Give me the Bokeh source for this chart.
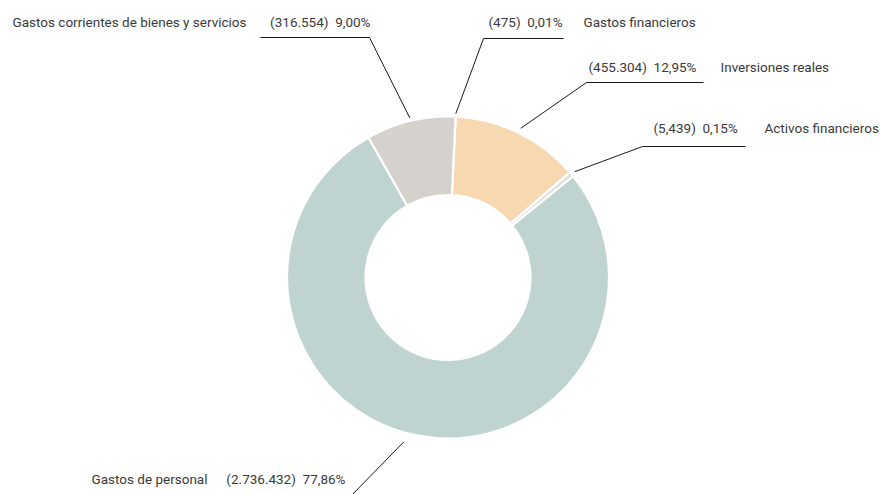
import math
from bokeh.plotting import figure
from bokeh.models import Range1d, ColumnDataSource
from bokeh.core.properties import value
from bokeh.embed import file_html
from bokeh.resources import INLINE

# ---------------- data ----------------
names = ["Gastos financieros", "Inversiones reales", "Activos financieros",
         "Gastos de personal", "Gastos corrientes de bienes y servicios"]
amounts = [475, 455304, 5439, 2736432, 316554]
amount_labels = ["(475)", "(455.304)", "(5,439)", "(2.736.432)", "(316.554)"]
percent_labels = ["0,01%", "12,95%", "0,15%", "77,86%", "9,00%"]

# ---------------- styling / layout ----------------
colors = ["#e4e4e4", "#f8d8b0", "#dedede", "#bfd4d0", "#d5d2ce"]
W, H = 882, 494
OFF = 0
def X(px): return px - OFF
def Y(py): return (H + OFF) - py

CX, CY = X(447.5), Y(277)
R_OUT, R_IN = 161, 82.5
START_DEG = 87.3
MIN_DEG = [0, 0, 1.8, 0, 0]          # display minimum angle per slice
LINE_R = [164, 166, 165, 170, 164]
ANGLE_NUDGE = [0, 0, 0, -4.3, 0]
# elbow (px), horizontal end x (px), value text (x, baseline), name text x
elbow = [(483, 38), (586, 82), (642, 146), (349, 497), (369, 37)]
hend = [563, 703, 745, 216, 260]
side = ["right", "right", "right", "left", "left"]
val_pos = [(488, 21), (588, 66), (653, 127), (345, 478), (370, 21)]
name_x = [583, 720, 764, 207, 246]

FONT = "Roboto"
FS = "13.5px"
TXT = "#3a3a3a"
GAP = "\u00a0\u00a0"

# ---------------- angles ----------------
total = float(sum(amounts))
deg = [a / total * 360.0 for a in amounts]
fixed = [max(d, m) if m > 0 else None for d, m in zip(deg, MIN_DEG)]
fixed_sum = sum(f for f in fixed if f is not None)
rest_sum = sum(d for d, f in zip(deg, fixed) if f is None)
disp = [f if f is not None else d * (360.0 - fixed_sum) / rest_sum for d, f in zip(deg, fixed)]

starts, ends, mids = [], [], []
a = START_DEG
for d in disp:
    starts.append(math.radians(a))
    ends.append(math.radians(a - d))
    mids.append(a - d / 2.0)
    a -= d

p = figure(width=W, height=H, x_range=Range1d(0, W), y_range=Range1d(0, H),
           x_axis_type=None, y_axis_type=None, toolbar_location=None,
           output_backend="svg", min_border=0, outline_line_color=None)
p.grid.visible = False
p.background_fill_color = "white"
p.border_fill_color = "white"

src = ColumnDataSource(dict(start=starts, end=ends, color=colors, name=names))
p.annular_wedge(x=CX, y=CY, inner_radius=R_IN, outer_radius=R_OUT,
                start_angle="start", end_angle="end", direction="clock",
                fill_color="color", line_color="white", line_width=2.2, source=src)

# leader lines
for i in range(len(names)):
    ang = math.radians(mids[i] + ANGLE_NUDGE[i])
    sx = CX + LINE_R[i] * math.cos(ang)
    sy = CY + LINE_R[i] * math.sin(ang)
    ex, ey = X(elbow[i][0]), Y(elbow[i][1])
    p.line([sx, ex, X(hend[i])], [sy, ey, ey], line_color="#1a1a1a", line_width=1)

# labels
for i in range(len(names)):
    vx, vy = X(val_pos[i][0]), Y(val_pos[i][1])
    value_text = amount_labels[i] + GAP + percent_labels[i]
    align = "left" if side[i] == "right" else "right"
    p.text(x=[vx], y=[vy], text=[value_text], text_align=align,
           text_baseline="alphabetic", text_font=value(FONT),
           text_font_size=FS, text_color=TXT)
    p.text(x=[X(name_x[i])], y=[vy], text=[names[i]], text_align=align,
           text_baseline="alphabetic", text_font=value(FONT),
           text_font_size=FS, text_color=TXT)

open("out.html", "w").write(file_html(p, INLINE))
